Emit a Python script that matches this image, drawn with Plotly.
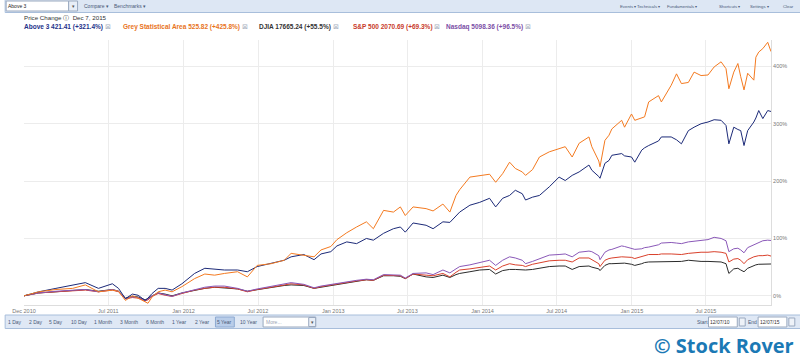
import plotly.graph_objects as go

# ---------------- data ----------------
dates = [
    "2010-12-07", "2011-01-12", "2011-02-23", "2011-04-05", "2011-05-06", "2011-06-07",
    "2011-07-11", "2011-07-26", "2011-08-12", "2011-08-29", "2011-09-12", "2011-09-29",
    "2011-10-06", "2011-10-16", "2011-10-31", "2011-11-17", "2011-12-04", "2011-12-28",
    "2012-01-28", "2012-02-22", "2012-03-17", "2012-04-10", "2012-05-12", "2012-06-05",
    "2012-06-29", "2012-08-02", "2012-09-03", "2012-09-20", "2012-10-21", "2012-11-15",
    "2012-12-02", "2012-12-26", "2013-01-10", "2013-02-03", "2013-02-27", "2013-03-23",
    "2013-04-09", "2013-05-04", "2013-05-28", "2013-06-14", "2013-06-26", "2013-07-15",
    "2013-08-16", "2013-09-02", "2013-09-26", "2013-10-13", "2013-10-28", "2013-11-06",
    "2013-12-01", "2013-12-25", "2014-01-18", "2014-02-02", "2014-02-19", "2014-03-08",
    "2014-03-22", "2014-04-08", "2014-04-16", "2014-05-03", "2014-05-20", "2014-06-13",
    "2014-07-07", "2014-07-22", "2014-08-08", "2014-08-25", "2014-09-18", "2014-09-25",
    "2014-10-12", "2014-10-15", "2014-10-27", "2014-11-06", "2014-11-13", "2014-12-07",
    "2014-12-14", "2014-12-31", "2015-01-08", "2015-01-25", "2015-02-01", "2015-02-11",
    "2015-03-07", "2015-03-14", "2015-04-07", "2015-04-20", "2015-05-02", "2015-05-19",
    "2015-06-02", "2015-06-19", "2015-07-06", "2015-07-21", "2015-08-07", "2015-08-19",
    "2015-08-26", "2015-09-07", "2015-09-17", "2015-09-24", "2015-10-02", "2015-10-11",
    "2015-10-26", "2015-10-31", "2015-11-07", "2015-11-17", "2015-11-29", "2015-12-07",
]

above3 = [
    0, 7, 13, 19, 23, 13, 21, 13, -5, 3, 1, -8,
    -4, 4, 13, 13, 10, 21, 39, 48, 46, 45, 45, 42,
    51, 56, 62, 68, 72, 63, 73, 77, 87, 94, 91, 100,
    97, 109, 117, 120, 111, 127, 123, 117, 129, 128, 140, 146,
    158, 163, 170, 155, 170, 175, 184, 178, 167, 172, 175, 190,
    207, 201, 210, 216, 228, 219, 208, 205, 231, 236, 245, 248,
    244, 242, 233, 254, 258, 262, 270, 277, 277, 272, 265, 288,
    294, 300, 303, 307, 306, 297, 265, 294, 290, 288, 262, 288,
    303, 310, 323, 309, 323, 321.4,
]

grey_area = [
    0, 7, 11, 13, 19, 7, 10, 8, -8, 0, -4, -10,
    -13, -2, 7, 10, 7, 16, 30, 38, 36, 39, 42, 33,
    53, 56, 62, 74, 71, 68, 80, 86, 98, 110, 120, 129,
    117, 149, 146, 155, 140, 155, 152, 148, 160, 146, 175, 185,
    207, 210, 212, 198, 213, 233, 222, 216, 210, 220, 242, 251,
    257, 260, 242, 266, 277, 260, 235, 225, 271, 280, 291, 306,
    294, 317, 306, 310, 312, 338, 349, 338, 367, 387, 370, 372,
    390, 384, 385, 399, 408, 396, 361, 390, 405, 382, 359, 388,
    376, 416, 425, 431, 442, 425.8,
]

djia = [
    0, 5, 7, 10, 11, 8, 11, 8, -4, -1, -2, -7,
    -5, 0, 5, 3, 0, 5, 10, 13, 15, 14, 12, 8,
    11, 14, 18, 19, 18, 13, 15, 18, 20, 23, 26, 28,
    27, 35, 35, 34, 30, 38, 33, 32, 36, 32, 37, 39,
    42, 45, 46, 38, 44, 46, 46, 45, 45, 46, 48, 51,
    52, 52, 46, 51, 52, 50, 47, 44, 53, 56, 56, 57,
    57, 55, 53, 56, 58, 59, 59, 59, 60, 60, 60, 62,
    61, 60, 60, 60, 59, 56, 39, 47, 48, 45, 42, 48,
    53, 54, 55, 55, 56, 55.5,
]

sp500 = [
    0, 5, 7, 9, 10, 7, 10, 7, -5, -3, -4, -9,
    -7, -1, 4, 1, -1, 4, 10, 13, 15, 15, 12, 7,
    11, 15, 19, 21, 19, 13, 16, 19, 21, 24, 26, 28,
    27, 36, 35, 35, 30, 38, 36, 35, 39, 33, 41, 45,
    47, 50, 52, 45, 52, 56, 54, 53, 51, 55, 58, 61,
    62, 62, 59, 66, 66, 63, 56, 51, 62, 65, 66, 68,
    68, 67, 65, 68, 70, 72, 72, 73, 73, 73, 72, 74,
    75, 76, 76, 77, 76, 74, 59, 64, 65, 62, 56, 63,
    68, 69, 70, 70, 71, 69.3,
]

nasdaq = [
    0, 5, 8, 9, 11, 7, 11, 8, -5, -2, -3, -8,
    -6, 0, 5, 2, -1, 5, 11, 15, 17, 17, 13, 8,
    12, 16, 21, 23, 20, 14, 17, 20, 22, 25, 27, 29,
    28, 37, 36, 36, 31, 39, 40, 37, 45, 40, 47, 51,
    54, 58, 62, 53, 62, 68, 66, 62, 56, 60, 65, 71,
    72, 73, 68, 76, 78, 77, 70, 63, 76, 80, 81, 87,
    86, 83, 81, 82, 84, 85, 89, 92, 93, 92, 91, 94,
    95, 97, 98, 102, 100, 96, 77, 82, 83, 80, 75, 84,
    89, 91, 94, 96, 97, 96.5,
]

x_tick_vals = ["2010-12-07", "2011-07-01", "2012-01-01", "2012-07-01", "2013-01-01",
               "2013-07-01", "2014-01-01", "2014-07-01", "2015-01-01", "2015-07-01"]
x_tick_text = ["Dec 2010", "Jul 2011", "Jan 2012", "Jul 2012", "Jan 2013",
               "Jul 2013", "Jan 2014", "Jul 2014", "Jan 2015", "Jul 2015"]
y_tick_vals = [0, 100, 200, 300, 400]
y_tick_text = ["0%", "100%", "200%", "300%", "400%"]

series = [
    ("Above 3", above3, "#1c2a78"),
    ("Grey Statistical Area", grey_area, "#f47a20"),
    ("DJIA", djia, "#2b2b2b"),
    ("S&P 500", sp500, "#d9402b"),
    ("Nasdaq", nasdaq, "#8a58b8"),
]

# ---------------- figure ----------------
W, H = 800, 361
L, R, T, B = 18, 771, 40, 305

def px(x):
    return (x - L) / (R - L)

def py(y):
    return (B - y) / (B - T)

fig = go.Figure()
for name, vals, col in [series[2], series[3], series[4], series[0], series[1]]:
    fig.add_trace(go.Scatter(x=dates, y=vals, mode="lines", name=name,
                             line=dict(color=col, width=1), hoverinfo="skip"))

shapes = []
ann = []
FONT = "Liberation Sans"

def rect(x0, y0, x1, y1, fill, line="rgba(0,0,0,0)", lw=0):
    shapes.append(dict(type="rect", xref="paper", yref="paper",
                       x0=px(x0), x1=px(x1), y0=py(y1), y1=py(y0),
                       fillcolor=fill, line=dict(color=line, width=lw), layer="below"))

def text(x, y, s, size=5, color="#4a5a78", anchor="left", family=FONT):
    ann.append(dict(xref="paper", yref="paper", x=px(x), y=py(y), text=s,
                    showarrow=False, xanchor=anchor, yanchor="middle",
                    font=dict(size=size, color=color, family=family),
                    borderpad=0, borderwidth=0))

# top toolbar
rect(-1, -1, 801, 12.5, "#dde7f4", "#a8bedb", 1)
rect(0, 1, 63, 11, "#ffffff", "#9aa9bf", 1)
rect(63, 1, 72, 11, "#e8eef7", "#9aa9bf", 1)
text(2, 6, "Above 3", 5, "#222222")
text(67.5, 6, "▾", 5, "#555555", "center")
text(78, 6, "Compare ▾", 5)
text(109, 6, "Benchmarks ▾", 5)
for xx, s in [(619, "Events ▾"), (636, "Technicals ▾"), (666, "Fundamentals ▾"),
              (719, "Shortcuts ▾"), (750, "Settings ▾"), (783, "Clear")]:
    text(xx, 6, s, 4.3)

# header
text(18, 17, "Price Change ⓘ  Dec 7, 2015", 6.2, "#333333")
legend_items = [
    (18, "Above 3 421.41 (+321.4%)", "#24328a"),
    (118, "Grey Statistical Area 525.82 (+425.8%)", "#e8731c"),
    (255, "DJIA 17665.24 (+55.5%)", "#333333"),
    (350, "S&P 500 2070.69 (+69.3%)", "#c83a2a"),
    (443, "Nasdaq 5098.36 (+96.5%)", "#7b4ea6"),
]
for xx, s, c in legend_items:
    text(xx, 27, "<b>" + s + "</b> <span style='color:#a8b0c0'>⊠</span>", 6.5, c)

# bottom bar
rect(-1, 315, 801, 328.5, "#dfe8f5", "#a8bedb", 1)
rect(211, 317, 230, 327, "#b9cde9", "#8eaad2", 1)
for xx, s in [(2, "1 Day"), (23, "2 Day"), (43, "5 Day"), (65, "10 Day"), (89, "1 Month"),
              (115, "3 Month"), (141, "6 Month"), (167, "1 Year"), (190, "2 Year"),
              (213, "5 Year"), (236, "10 Year")]:
    text(xx, 322, s, 5)
rect(259, 317, 312, 327, "#ffffff", "#9aa9bf", 1)
rect(305, 317.5, 312, 326.5, "#e8eef7", "#9aa9bf", 1)
text(262, 322, "More...", 5, "#9aa4b4")
text(308.5, 322, "▾", 5, "#555555", "center")
text(696, 322, "Start", 5)
rect(708, 317, 737, 327, "#ffffff", "#9aa9bf", 1)
text(710, 322, "12/07/10", 5, "#333333")
rect(739, 318, 745, 326, "#eef2f8", "#9aa9bf", 1)
text(748, 322, "End", 5)
rect(758, 317, 787, 327, "#ffffff", "#9aa9bf", 1)
text(760, 322, "12/07/15", 5, "#333333")
rect(789, 318, 795, 326, "#eef2f8", "#9aa9bf", 1)

# watermark
text(794, 345, "<b>© Stock Rover</b>", 20, "#1b79b5", "right", "Open Sans")

fig.update_layout(
    width=W, height=H,
    margin=dict(l=L, r=W - R, t=T, b=H - B),
    paper_bgcolor="#ffffff", plot_bgcolor="#ffffff",
    showlegend=False,
    shapes=shapes, annotations=ann,
    xaxis=dict(type="date", range=["2010-12-07", "2015-12-07"],
               tickmode="array", tickvals=x_tick_vals, ticktext=x_tick_text,
               showgrid=True, gridcolor="#ececec", gridwidth=1,
               showline=True, linecolor="#dddddd", linewidth=1,
               ticks="", tickfont=dict(size=5.5, color="#777777", family=FONT),
               zeroline=False, fixedrange=True),
    yaxis=dict(side="right", range=[-16, 446],
               tickmode="array", tickvals=y_tick_vals, ticktext=y_tick_text,
               showgrid=True, gridcolor="#ececec", gridwidth=1,
               showline=True, linecolor="#dddddd", linewidth=1,
               ticks="", tickfont=dict(size=5.5, color="#777777", family=FONT),
               zeroline=False, fixedrange=True),
)

fig.write_html("out.html", config={"displayModeBar": False},
               post_script="document.body.style.margin='0px';document.body.style.padding='0px';")
